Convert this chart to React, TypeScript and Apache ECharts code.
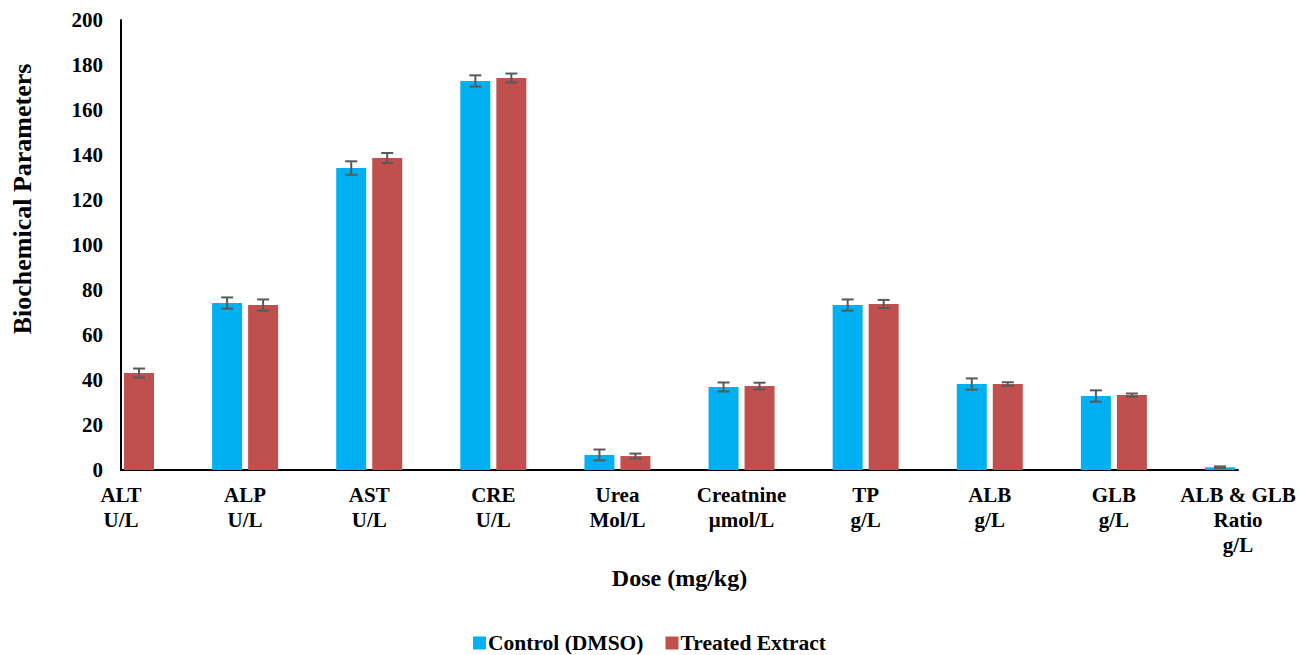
import React, { useEffect, useRef } from "react";
import * as echarts from "echarts";

const categories = [
  "ALT\nU/L",
  "ALP\nU/L",
  "AST\nU/L",
  "CRE\nU/L",
  "Urea\nMol/L",
  "Creatnine\nμmol/L",
  "TP\ng/L",
  "ALB\ng/L",
  "GLB\ng/L",
  "ALB & GLB\nRatio\ng/L",
];
const controlValues: (number | null)[] = [null, 74.2, 134.2, 172.9, 6.7, 36.9, 73.3, 38.2, 32.9, 1.2];
const controlErrors: (number | null)[] = [null, 2.5, 3, 2.5, 2.4, 2, 2.5, 2.5, 2.5, 0.4];
const treatedValues: (number | null)[] = [43.1, 73.3, 138.7, 174.2, 6.2, 37.3, 73.8, 38.2, 33.3, null];
const treatedErrors: (number | null)[] = [2, 2.5, 2.2, 2, 1.1, 1.5, 1.8, 0.8, 0.7, null];
const yTicks = { min: 0, max: 200, interval: 20 };

const FONT = "'Liberation Serif', 'Times New Roman', serif";

function errData(vals: (number | null)[], errs: (number | null)[]) {
  const out: any[] = [];
  vals.forEach((v, i) => {
    const e = errs[i];
    if (v != null && e != null) out.push([i, v - e, v + e]);
  });
  return out;
}

function makeErrorSeries(name: string, data: any[], offset: number) {
  return {
    type: "custom",
    name,
    data,
    z: 10,
    silent: true,
    renderItem: (params: any, api: any) => {
      const i = api.value(0);
      const lo = api.coord([i, api.value(1)]);
      const hi = api.coord([i, api.value(2)]);
      const x = lo[0] + offset;
      const cap = 6;
      const style = { stroke: "#595959", lineWidth: 2 };
      return {
        type: "group",
        children: [
          { type: "line", shape: { x1: x, y1: lo[1], x2: x, y2: hi[1] }, style },
          { type: "line", shape: { x1: x - cap, y1: lo[1], x2: x + cap, y2: lo[1] }, style },
          { type: "line", shape: { x1: x - cap, y1: hi[1], x2: x + cap, y2: hi[1] }, style },
        ],
      };
    },
  };
}

export default function App() {
  const ref = useRef<HTMLDivElement>(null);
  useEffect(() => {
    if (!ref.current) return;
    const chart = echarts.init(ref.current, undefined, { renderer: "svg" });
    chart.setOption({
      animation: false,
      backgroundColor: "#ffffff",
      textStyle: { fontFamily: FONT },
      grid: { left: 121, right: 61, top: 20, bottom: 185, containLabel: false },
      legend: {
        top: 632,
        left: "center",
        padding: 0,
        itemWidth: 13,
        itemHeight: 13,
        itemGap: 22,
        icon: "rect",
        data: ["Control (DMSO)", "Treated Extract"],
        textStyle: { fontFamily: FONT, fontWeight: "bold", fontSize: 21.5, lineHeight: 22, color: "#000", padding: [0, 0, 0, -3] },
      },
      xAxis: {
        type: "category",
        data: categories,
        boundaryGap: false,
        name: "Dose (mg/kg)",
        nameLocation: "middle",
        nameGap: 96,
        nameTextStyle: { fontFamily: FONT, fontWeight: "bold", fontSize: 24, color: "#000" },
        axisLine: { lineStyle: { color: "#000", width: 2 } },
        axisTick: { show: false },
        axisLabel: {
          interval: 0,
          margin: 12,
          fontFamily: FONT,
          fontWeight: "bold",
          fontSize: 21,
          lineHeight: 25,
          color: "#000",
        },
        splitLine: { show: false },
      },
      yAxis: {
        type: "value",
        min: yTicks.min,
        max: yTicks.max,
        interval: yTicks.interval,
        axisLine: { show: true, lineStyle: { color: "#000", width: 2 } },
        axisTick: { show: false },
        splitLine: { show: false },
        axisLabel: {
          margin: 18,
          fontFamily: FONT,
          fontWeight: "bold",
          fontSize: 21,
          color: "#000",
        },
      },
      graphic: [
        {
          type: "text",
          x: 22,
          y: 199,
          rotation: Math.PI / 2,
          style: {
            text: "Biochemical Parameters",
            fontFamily: FONT,
            fontWeight: "bold",
            fontSize: 26,
            fill: "#000",
            align: "center",
            verticalAlign: "middle",
          },
        },
      ],
      series: [
        {
          name: "Control (DMSO)",
          type: "bar",
          data: controlValues.map((v) => (v == null ? "-" : v)),
          barWidth: 30,
          barGap: "20%",
          itemStyle: { color: "#00B0F0" },
        },
        {
          name: "Treated Extract",
          type: "bar",
          data: treatedValues.map((v) => (v == null ? "-" : v)),
          barWidth: 30,
          barGap: "20%",
          itemStyle: { color: "#C0504D" },
        },
        makeErrorSeries("ctrlErr", errData(controlValues, controlErrors), -18),
        makeErrorSeries("trtErr", errData(treatedValues, treatedErrors), 18),
      ],
    });
    return () => chart.dispose();
  }, []);
  return (
    <div
      ref={ref}
      style={{ position: "fixed", left: 0, top: 0, width: 1299, height: 655 }}
    />
  );
}
